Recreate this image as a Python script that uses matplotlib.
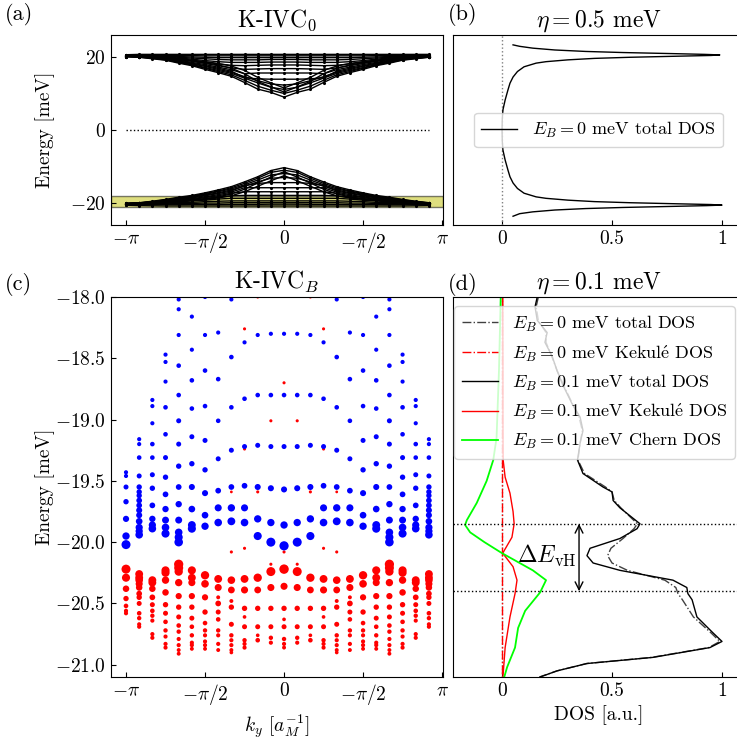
import numpy as np
import matplotlib
matplotlib.use("Agg")
import matplotlib.pyplot as plt

plt.rcParams.update({
    'font.family': ['cmr10', 'DejaVu Serif'],
    'mathtext.fontset': 'cm',
    'axes.formatter.use_mathtext': True,
    'axes.unicode_minus': True,
    'xtick.direction': 'in',
    'ytick.direction': 'in',
    'font.size': 14,
})

# ---------------- data ----------------
# band energies (meV) at |k| = 0, pi/12, ..., pi  (bands are even in k)
upper_bands = [
    [9.0, 10.3, 11.2, 13.0, 14.7, 15.7, 16.6, 17.6, 18.3, 19.1, 19.5, 19.9, 20.1],
    [10.0, 10.9, 12.0, 13.6, 15.1, 16.0, 16.9, 17.8, 18.5, 19.2, 19.6, 19.95, 20.1],
    [10.4, 11.8, 13.3, 15.4, 16.9, 17.8, 18.4, 18.9, 19.3, 19.6, 19.85, 20.0, 20.1],
    [11.1, 11.7, 12.9, 14.2, 15.5, 16.3, 17.1, 17.9, 18.6, 19.3, 19.7, 20.0, 20.2],
    [11.5, 12.9, 14.4, 16.3, 17.5, 18.2, 18.7, 19.1, 19.4, 19.7, 19.9, 20.05, 20.1],
    [12.3, 12.6, 13.5, 14.6, 15.8, 16.6, 17.4, 18.1, 18.8, 19.4, 19.8, 20.05, 20.2],
    [13.9, 13.9, 14.0, 14.3, 16.1, 16.9, 17.6, 18.3, 18.9, 19.5, 19.85, 20.1, 20.2],
    [15.6, 15.6, 15.6, 15.4, 16.5, 17.2, 17.9, 18.5, 19.1, 19.6, 19.9, 20.1, 20.25],
    [16.8, 16.8, 16.7, 16.6, 17.0, 17.6, 18.2, 18.8, 19.3, 19.7, 20.0, 20.15, 20.3],
    [17.8, 17.8, 17.7, 17.6, 17.7, 18.1, 18.6, 19.1, 19.5, 19.85, 20.1, 20.2, 20.3],
    [18.6, 18.6, 18.5, 18.5, 18.5, 18.7, 19.0, 19.4, 19.7, 20.0, 20.2, 20.3, 20.35],
    [19.3, 19.3, 19.2, 19.2, 19.2, 19.3, 19.5, 19.7, 19.9, 20.1, 20.25, 20.35, 20.4],
    [19.8, 19.8, 19.8, 19.8, 19.8, 19.8, 19.9, 20.0, 20.1, 20.25, 20.35, 20.4, 20.45],
    [20.3, 20.3, 20.3, 20.3, 20.3, 20.3, 20.3, 20.35, 20.4, 20.45, 20.5, 20.5, 20.5],
    [20.7, 20.7, 20.7, 20.7, 20.7, 20.7, 20.7, 20.7, 20.7, 20.7, 20.7, 20.7, 20.6],
]
lower_bands = [
    [-10.3, -11.1, -12.8, -14.2, -15.5, -16.4, -17.2, -17.9, -18.4, -19.0, -19.5, -19.9, -20.1],
    [-11.0, -11.6, -13.2, -14.6, -15.8, -16.7, -17.4, -18.1, -18.6, -19.1, -19.6, -19.95, -20.1],
    [-11.4, -12.9, -14.5, -16.2, -17.5, -18.3, -18.8, -19.2, -19.5, -19.7, -19.9, -20.0, -20.1],
    [-11.9, -12.3, -13.7, -15.0, -16.1, -16.9, -17.6, -18.2, -18.7, -19.2, -19.65, -20.0, -20.15],
    [-12.5, -13.9, -15.4, -16.9, -18.0, -18.6, -19.0, -19.3, -19.6, -19.8, -19.95, -20.05, -20.1],
    [-13.0, -13.2, -14.2, -15.4, -16.4, -17.2, -17.8, -18.4, -18.9, -19.3, -19.7, -20.0, -20.15],
    [-14.4, -14.4, -14.6, -15.2, -16.7, -17.4, -18.0, -18.6, -19.0, -19.4, -19.75, -20.05, -20.2],
    [-15.8, -15.8, -15.8, -15.8, -17.0, -17.7, -18.3, -18.8, -19.2, -19.5, -19.8, -20.1, -20.2],
    [-16.9, -16.9, -16.9, -16.9, -17.3, -18.0, -18.5, -19.0, -19.3, -19.6, -19.9, -20.1, -20.25],
    [-17.9, -17.9, -17.9, -17.9, -18.0, -18.4, -18.8, -19.2, -19.5, -19.75, -20.0, -20.15, -20.25],
    [-18.7, -18.7, -18.7, -18.7, -18.7, -18.9, -19.2, -19.4, -19.7, -19.9, -20.1, -20.2, -20.3],
    [-19.4, -19.4, -19.4, -19.4, -19.4, -19.5, -19.6, -19.8, -19.9, -20.05, -20.2, -20.25, -20.3],
    [-19.9, -19.9, -19.9, -19.9, -19.9, -20.0, -20.0, -20.1, -20.15, -20.2, -20.3, -20.3, -20.35],
    [-20.3, -20.3, -20.35, -20.35, -20.35, -20.4, -20.4, -20.4, -20.45, -20.45, -20.45, -20.45, -20.45],
    [-20.8, -20.8, -20.8, -20.8, -20.8, -20.8, -20.8, -20.8, -20.8, -20.8, -20.75, -20.7, -20.6],
]

# panel (b): DOS at eta = 0.5 meV
b_energy = [23.3, 22.9, 22.4, 21.9, 21.5, 21.2, 20.9, 20.7, 20.55, 20.4, 20.2, 19.9, 19.6,
            19.2, 18.7, 18.3, 17.3, 16.0, 14.5, 12.8, 11.0, 8.2, 5.5, 3.0, 0.0,
            -3.0, -5.5, -8.2, -11.0, -12.8, -14.5, -16.0, -17.3, -18.3, -18.7, -19.2,
            -19.6, -19.9, -20.2, -20.4, -20.55, -20.7, -20.9, -21.2, -21.5, -21.9, -22.4,
            -22.9, -23.6]
b_dos = [0.05, 0.08, 0.14, 0.24, 0.38, 0.55, 0.78, 0.92, 0.99, 0.95, 0.80, 0.58, 0.42,
         0.30, 0.20, 0.155, 0.10, 0.07, 0.05, 0.036, 0.027, 0.014, 0.004, 0.001, 0.0,
         0.001, 0.004, 0.014, 0.027, 0.036, 0.05, 0.07, 0.10, 0.155, 0.20, 0.30,
         0.42, 0.58, 0.80, 0.95, 1.0, 0.93, 0.78, 0.55, 0.38, 0.24, 0.14,
         0.08, 0.05]

# panel (c): Landau levels, columns at k = -pi + i*pi/12, i = 0..12 (mirror for k > 0)
blue_E = [
    [-19.43, -19.46, -19.55, -19.67, -19.81, -19.95, -20.02],
    [-19.16, -19.20, -19.31, -19.46, -19.55, -19.59, -19.62, -19.66, -19.70, -19.74, -19.78, -19.83, -19.88, -19.91, -19.94],
    [-18.84, -18.89, -19.03, -19.20, -19.31, -19.45, -19.56, -19.70, -19.81, -19.86, -19.89],
    [-18.47, -18.53, -18.69, -18.90, -19.12, -19.31, -19.47, -19.61, -19.73, -19.82, -19.88, -19.93],
    [-18.02, -18.10, -18.31, -18.56, -18.80, -19.01, -19.20, -19.38, -19.55, -19.69, -19.82, -19.92, -19.96, -20.00],
    [-18.16, -18.43, -18.68, -18.91, -19.14, -19.36, -19.55, -19.73, -19.86, -19.89],
    [-18.00, -18.31, -18.60, -18.89, -19.17, -19.41, -19.60, -19.78, -19.87],
    [-18.29, -18.67, -19.01, -19.32, -19.58, -19.72, -19.84],
    [-18.02, -18.49, -18.90, -19.25, -19.55, -19.72, -19.83],
    [-18.37, -18.83, -19.22, -19.54, -19.72, -19.84],
    [-18.31, -18.80, -19.21, -19.55, -19.81, -19.95],
    [-18.30, -18.80, -19.22, -19.56, -19.84, -20.00],
    [-18.30, -18.80, -19.22, -19.57, -19.86, -20.03],
]
blue_s = [
    [9, 9, 13, 15, 20, 28, 42],
    [9, 9, 11, 13, 15, 15, 15, 17, 17, 19, 19, 23, 27, 27, 30],
    [9, 9, 9, 11, 11, 13, 15, 17, 21, 27, 30],
    [9, 9, 9, 11, 11, 13, 15, 17, 21, 25, 30, 34],
    [9, 9, 9, 11, 11, 13, 13, 15, 17, 21, 25, 30, 34, 38],
    [9, 9, 11, 11, 13, 15, 19, 23, 32, 34],
    [9, 9, 11, 11, 13, 15, 19, 23, 28],
    [9, 11, 11, 13, 17, 26, 30],
    [9, 11, 11, 13, 17, 28, 32],
    [9, 11, 13, 17, 26, 30],
    [9, 11, 13, 19, 28, 34],
    [9, 11, 13, 19, 28, 42],
    [9, 11, 13, 19, 28, 44],
]
red_E = [
    [-20.22, -20.29, -20.38, -20.46, -20.52, -20.56, -20.58],
    [-20.26, -20.29, -20.31, -20.34, -20.37, -20.42, -20.45, -20.50, -20.58, -20.62, -20.67, -20.69],
    [-20.31, -20.33, -20.38, -20.45, -20.51, -20.56, -20.60, -20.64, -20.75, -20.78],
    [-20.23, -20.25, -20.31, -20.41, -20.51, -20.58, -20.65, -20.72, -20.77, -20.83, -20.86],
    [-20.18, -20.21, -20.24, -20.33, -20.44, -20.53, -20.61, -20.68, -20.73, -20.79, -20.84, -20.88, -20.91],
    [-20.23, -20.29, -20.33, -20.44, -20.53, -20.62, -20.69, -20.76, -20.82, -20.84, -20.87],
    [-20.27, -20.34, -20.45, -20.57, -20.66, -20.72, -20.76, -20.81, -20.84, -20.87],
    [-20.30, -20.37, -20.45, -20.50, -20.57, -20.63, -20.72, -20.76, -20.83, -20.88],
    [-19.59, -19.71, -20.08, -20.31, -20.39, -20.48, -20.53, -20.67, -20.76, -20.80, -20.84, -20.88, -20.90],
    [-18.26, -19.24, -20.05, -20.30, -20.39, -20.54, -20.61, -20.69, -20.80, -20.83, -20.86],
    [-18.00, -19.59, -20.29, -20.39, -20.54, -20.69, -20.76, -20.80],
    [-19.01, -20.18, -20.24, -20.37, -20.54, -20.69, -20.78, -20.82],
    [-18.70, -20.08, -20.22, -20.36, -20.54, -20.63, -20.69, -20.79, -20.83, -20.86],
]
red_s = [
    [42, 34, 22, 15, 11, 9, 9],
    [32, 32, 30, 26, 22, 17, 15, 13, 11, 10, 9, 9],
    [32, 32, 22, 17, 13, 11, 10, 9, 9, 9],
    [34, 34, 28, 22, 15, 13, 11, 10, 9, 9, 9],
    [44, 42, 36, 28, 20, 15, 13, 11, 10, 9, 9, 8, 8],
    [34, 32, 26, 20, 15, 13, 11, 10, 9, 9, 8],
    [36, 30, 20, 15, 11, 10, 9, 9, 9, 8],
    [32, 26, 8, 17, 13, 11, 10, 9, 9, 8],
    [4, 4, 5, 30, 24, 8, 15, 13, 10, 9, 9, 8, 7],
    [5, 5, 5, 32, 26, 15, 7, 13, 10, 9, 9],
    [5, 5, 36, 24, 15, 13, 7, 11],
    [5, 5, 42, 26, 15, 13, 10, 9],
    [5, 5, 46, 26, 15, 7, 13, 10, 9, 8],
]

# panel (d): DOS at eta = 0.1 meV
d_energy = [-18.00, -18.08, -18.19, -18.29, -18.37, -18.48, -18.60, -18.72, -18.87, -18.98,
            -19.09, -19.19, -19.33, -19.44, -19.55, -19.59, -19.66, -19.72, -19.85, -19.89,
            -19.97, -20.05, -20.11, -20.17, -20.23, -20.31, -20.37, -20.42, -20.47, -20.61,
            -20.74, -20.81, -20.86, -20.94, -20.99, -21.05, -21.10]
d_total_b01 = [0.16, 0.15, 0.16, 0.205, 0.195, 0.227, 0.25, 0.277, 0.318, 0.355,
               0.368, 0.355, 0.343, 0.368, 0.459, 0.50, 0.505, 0.536, 0.627, 0.614,
               0.536, 0.40, 0.386, 0.414, 0.536, 0.777, 0.84, 0.845, 0.864, 0.886,
               0.959, 1.0, 0.945, 0.686, 0.386, 0.25, 0.173]
d_total_b0 = [0.165, 0.155, 0.165, 0.20, 0.20, 0.225, 0.25, 0.28, 0.32, 0.35,
              0.365, 0.355, 0.345, 0.375, 0.47, 0.50, 0.51, 0.54, 0.615, 0.60,
              0.55, 0.495, 0.48, 0.50, 0.57, 0.74, 0.79, 0.80, 0.82, 0.87,
              0.95, 0.99, 0.94, 0.68, 0.385, 0.25, 0.17]
kek_energy = [-18.00, -18.60, -19.00, -19.33, -19.47, -19.60, -19.75, -19.85, -19.96,
              -20.09, -20.20, -20.31, -20.42, -20.61, -20.86, -21.10]
kek_b01 = [0.003, 0.004, 0.004, 0.005, 0.014, 0.036, 0.05, 0.055, 0.045,
           0.003, 0.05, 0.068, 0.059, 0.036, 0.014, 0.004]
kek_b0_energy = [-18.00, -21.10]
kek_b0 = [0.0, 0.0]
chern_energy = [-18.00, -18.60, -19.15, -19.33, -19.50, -19.68, -19.82, -19.86, -19.92,
                -20.00, -20.09, -20.16, -20.23, -20.31, -20.41, -20.56, -20.70, -20.86,
                -21.02, -21.10]
chern_b01 = [-0.006, -0.014, -0.025, -0.04, -0.07, -0.115, -0.16, -0.168, -0.145,
             -0.08, 0.0, 0.07, 0.14, 0.20, 0.173, 0.105, 0.073, 0.059, 0.023, 0.01]
vh_upper, vh_lower = -19.85, -20.40

kticks = [-np.pi, -np.pi/2, 0, np.pi/2, np.pi]
klabels = [r'$-\pi$', r'$-\pi/2$', r'$0$', r'$-\pi/2$', r'$\pi$']
kek = r'Kekul$\acute{\mathrm{e}}$'

# ---------------- figure ----------------
W, H = 737, 742
fig = plt.figure(figsize=(W/100, H/100), dpi=100)
ax_a = fig.add_axes([111/W, 1-225/H, 332/W, 190/H])
ax_b = fig.add_axes([453/W, 1-225/H, 291/W, 190/H])
ax_c = fig.add_axes([111/W, 1-677/H, 332/W, 380/H])
ax_d = fig.add_axes([453/W, 1-677/H, 291/W, 380/H])

kk = -np.pi + np.arange(24)*np.pi/12
idx = np.abs(np.arange(24) - 12)

# (a) band structure
ax_a.axhspan(-21.1, -18.0, facecolor='y', edgecolor='k', alpha=0.5, lw=1, zorder=0)
for band in upper_bands + lower_bands:
    ax_a.plot(kk, np.array(band)[idx], 'k.-', lw=1, ms=2.5)
ax_a.plot(kk, np.zeros(24), 'k:', lw=1)
ax_a.set_xlim(-3.44, 3.16)
ax_a.set_ylim(-26, 26)
ax_a.set_yticks([-20, 0, 20])
ax_a.set_xticks(kticks)
ax_a.set_xticklabels(klabels)
ax_a.set_ylabel('Energy [meV]')
ax_a.yaxis.set_label_coords(-0.17, 0.5)
ax_a.set_title(r'K-IVC$_0$', fontsize=17)

# (b) DOS
ax_b.axvline(0, color='gray', ls=':', lw=1)
ax_b.plot(b_dos, b_energy, 'k-', lw=1, label=r'$E_B = 0$ meV total DOS')
ax_b.set_xlim(-0.223, 1.1)
ax_b.set_ylim(-26, 26)
ax_b.set_xticks([0, 0.5, 1])
ax_b.set_xticklabels(['0', '0.5', '1'])
ax_b.tick_params(left=False, labelleft=False)
ax_b.legend(loc='center', bbox_to_anchor=(0.5, 0.5), fontsize=13)
ax_b.set_title(r'$\eta = 0.5$ meV', fontsize=17)

# (c) Landau levels
for i in range(13):
    cols = [kk[i]] if i in (0, 12) else [kk[i], kk[24 - i]]
    for kx in cols:
        ax_c.scatter([kx]*len(red_E[i]), red_E[i], s=red_s[i], c='red', linewidths=0)
        ax_c.scatter([kx]*len(blue_E[i]), blue_E[i], s=blue_s[i], c='blue', linewidths=0)
ax_c.set_xlim(-3.44, 3.16)
ax_c.set_ylim(-21.1, -18.0)
ax_c.set_yticks(np.arange(-21.0, -17.9, 0.5))
ax_c.yaxis.set_major_formatter(matplotlib.ticker.FormatStrFormatter(r'$%.1f$'))
ax_c.set_xticks(kticks)
ax_c.set_xticklabels(klabels)
ax_c.set_ylabel('Energy [meV]')
ax_c.yaxis.set_label_coords(-0.17, 0.5)
ax_c.set_xlabel(r'$k_y$ [$a_M^{-1}$]')
ax_c.set_title(r'K-IVC$_B$', fontsize=17)

# (d) DOS with field
ax_d.axvline(0, color='gray', ls=':', lw=1)
ax_d.plot(d_total_b0, d_energy, 'k-.', lw=1, alpha=0.75, label=r'$E_B = 0$ meV total DOS')
ax_d.plot(kek_b0, kek_b0_energy, 'r-.', lw=1, label=r'$E_B = 0$ meV ' + kek + ' DOS')
ax_d.plot(d_total_b01, d_energy, 'k-', lw=1, label=r'$E_B = 0.1$ meV total DOS')
ax_d.plot(kek_b01, kek_energy, 'r-', lw=1, label=r'$E_B = 0.1$ meV ' + kek + ' DOS')
ax_d.plot(chern_b01, chern_energy, '-', color='lime', lw=1.3, label=r'$E_B = 0.1$ meV Chern DOS')
ax_d.axhline(vh_upper, color='k', ls=':', lw=1)
ax_d.axhline(vh_lower, color='k', ls=':', lw=1)
ax_d.annotate('', xy=(0.35, vh_upper), xytext=(0.35, vh_lower),
              arrowprops=dict(arrowstyle='<->', color='k', lw=1, shrinkA=0, shrinkB=0))
ax_d.text(0.205, -20.11, r'$\Delta E_{\rm vH}$', ha='center', va='center', fontsize=17)
ax_d.set_xlim(-0.223, 1.1)
ax_d.set_ylim(-21.1, -18.0)
ax_d.set_xticks([0, 0.5, 1])
ax_d.set_xticklabels(['0', '0.5', '1'])
ax_d.tick_params(left=False, labelleft=False)
ax_d.set_xlabel('DOS [a.u.]')
ax_d.legend(loc='upper left', bbox_to_anchor=(0.005, 0.975), borderaxespad=0, fontsize=13)
ax_d.set_title(r'$\eta = 0.1$ meV', fontsize=17)

for lab, x, y in [('(a)', 5, 3), ('(b)', 448, 3), ('(c)', 5, 273), ('(d)', 448, 273)]:
    fig.text(x/W, 1 - y/H, lab, ha='left', va='top', fontsize=16)

fig.savefig('out.png', dpi=100)
